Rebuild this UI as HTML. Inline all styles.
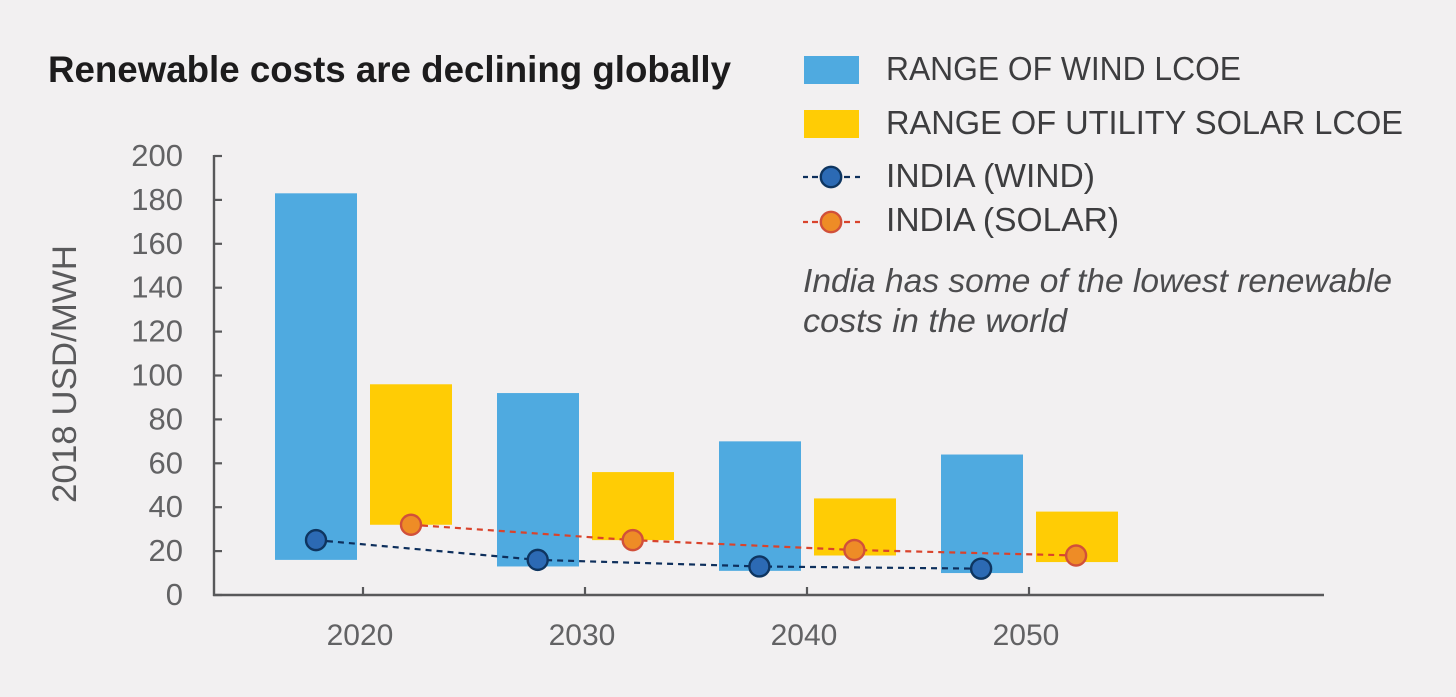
<!DOCTYPE html>
<html lang="en">
<head>
<meta charset="utf-8">
<title>Renewable costs are declining globally</title>
<style>
html,body{margin:0;padding:0;background:#f2f0f1;width:1456px;height:697px;overflow:hidden}
svg{display:block;font-family:"Liberation Sans",sans-serif}
</style>
</head>
<body>
<svg id="chart" width="1456" height="697" viewBox="0 0 1456 697" xmlns="http://www.w3.org/2000/svg">
  <rect x="0" y="0" width="1456" height="697" fill="#f2f0f1"/>
  <text x="48" y="82" font-size="37" font-weight="bold" fill="#1d1c1d" textLength="683" lengthAdjust="spacingAndGlyphs">Renewable costs are declining globally</text>

  <g>
    <rect x="804" y="56" width="55" height="28" fill="#4faae0"/>
    <text x="886" y="80" font-size="33" fill="#3d3d3f" textLength="355" lengthAdjust="spacingAndGlyphs">RANGE OF WIND LCOE</text>
    <rect x="804" y="110" width="55" height="28" fill="#ffcc05"/>
    <text x="886" y="134" font-size="33" fill="#3d3d3f" textLength="517" lengthAdjust="spacingAndGlyphs">RANGE OF UTILITY SOLAR LCOE</text>
    <line x1="803" y1="177" x2="860" y2="177" stroke="#0e2f5c" stroke-width="2.2" stroke-dasharray="5 4 6 26 6 5 5"/>
    <circle cx="831" cy="177" r="10.2" fill="#2c6ab4" stroke="#0e3560" stroke-width="2.4"/>
    <text x="886" y="187" font-size="33" fill="#3d3d3f" textLength="209" lengthAdjust="spacingAndGlyphs">INDIA (WIND)</text>
    <line x1="803" y1="222" x2="860" y2="222" stroke="#d9432c" stroke-width="2.2" stroke-dasharray="5 4 6 26 6 5 5"/>
    <circle cx="831" cy="222" r="10.2" fill="#ee8c26" stroke="#d1503a" stroke-width="2.4"/>
    <text x="886" y="231" font-size="33" fill="#3d3d3f" textLength="233" lengthAdjust="spacingAndGlyphs">INDIA (SOLAR)</text>
  </g>

  <text x="803" y="292" font-size="33" font-style="italic" fill="#4c4c4e" textLength="589" lengthAdjust="spacingAndGlyphs">India has some of the lowest renewable</text>
  <text x="803" y="332" font-size="33" font-style="italic" fill="#4c4c4e" textLength="264" lengthAdjust="spacingAndGlyphs">costs in the world</text>

  <text transform="translate(76,374) rotate(-90)" text-anchor="middle" font-size="34" fill="#5a5a5c" textLength="258" lengthAdjust="spacingAndGlyphs">2018 USD/MWH</text>

  <g id="marks"></g>
</svg>
<script>
var categories = ['2020', '2030', '2040', '2050'];
var yTicks = [0, 20, 40, 60, 80, 100, 120, 140, 160, 180, 200];
var windLow = [16, 13, 11, 10];
var windHigh = [183, 92, 70, 64];
var solarLow = [32, 25, 18, 15];
var solarHigh = [96, 56, 44, 38];
var indiaWind = [25, 16, 13, 12];
var indiaSolar = [32, 25, 20.5, 18];

var NS = 'http://www.w3.org/2000/svg';
var marks = document.getElementById('marks');

function yScale(v) { return 595 - v * 2.195; }
function xScale(i) { return 363 + i * 222; }
function windPointX(i) { return 316 + i * 221.7; }
function solarPointX(i) { return 411 + i * 221.7; }

function make(tag, attrs, text) {
  var el = document.createElementNS(NS, tag);
  for (var k in attrs) { el.setAttribute(k, attrs[k]); }
  if (text !== undefined) { el.textContent = text; }
  marks.appendChild(el);
  return el;
}

var AXIS = '#58585a';
var el;

categories.forEach(function (c, i) {
  el = make('rect', { x: xScale(i) - 88, y: yScale(windHigh[i]), width: 82, height: yScale(windLow[i]) - yScale(windHigh[i]), fill: '#4faae0' });
  
  
  el = make('rect', { x: xScale(i) + 7, y: yScale(solarHigh[i]), width: 82, height: yScale(solarLow[i]) - yScale(solarHigh[i]), fill: '#ffcc05' });
  
  
});

el = make('line', { x1: 214, y1: yScale(200) - 1, x2: 214, y2: yScale(0) + 1, stroke: AXIS, 'stroke-width': 2.4 });


el = make('line', { x1: 213, y1: yScale(0), x2: 1324, y2: yScale(0), stroke: AXIS, 'stroke-width': 2.4 });



yTicks.forEach(function (t) {
  el = make('line', { x1: 214, y1: yScale(t), x2: 222, y2: yScale(t), stroke: AXIS, 'stroke-width': 2.2 });
  
  
  el = make('text', { x: 183, y: yScale(t) + 10, 'text-anchor': 'end', 'font-size': 31, fill: '#626264' }, String(t));
  
  
});

categories.forEach(function (c, i) {
  el = make('line', { x1: xScale(i), y1: 587, x2: xScale(i), y2: 595, stroke: AXIS, 'stroke-width': 2.2 });
  
  
  el = make('text', { x: xScale(i) - 3, y: 645, 'text-anchor': 'middle', 'font-size': 30, fill: '#626264' }, c);
  
  
});

function seriesPoints(values, xFn) {
  return values.map(function (v, i) { return xFn(i) + ',' + yScale(v); }).join(' ');
}

el = make('polyline', { points: seriesPoints(indiaWind, windPointX), fill: 'none', stroke: '#0e2f5c', 'stroke-width': 2.2, 'stroke-dasharray': '6 5' });


el = make('polyline', { points: seriesPoints(indiaSolar, solarPointX), fill: 'none', stroke: '#d9432c', 'stroke-width': 2.2, 'stroke-dasharray': '6 5' });



categories.forEach(function (c, i) {
  el = make('circle', { cx: windPointX(i), cy: yScale(indiaWind[i]), r: 10, fill: '#2c6ab4', stroke: '#0e3560', 'stroke-width': 2.4 });
  
  
  el = make('circle', { cx: solarPointX(i), cy: yScale(indiaSolar[i]), r: 10, fill: '#ee8c26', stroke: '#d1503a', 'stroke-width': 2.4 });
  
  
});
</script>
</body>
</html>
